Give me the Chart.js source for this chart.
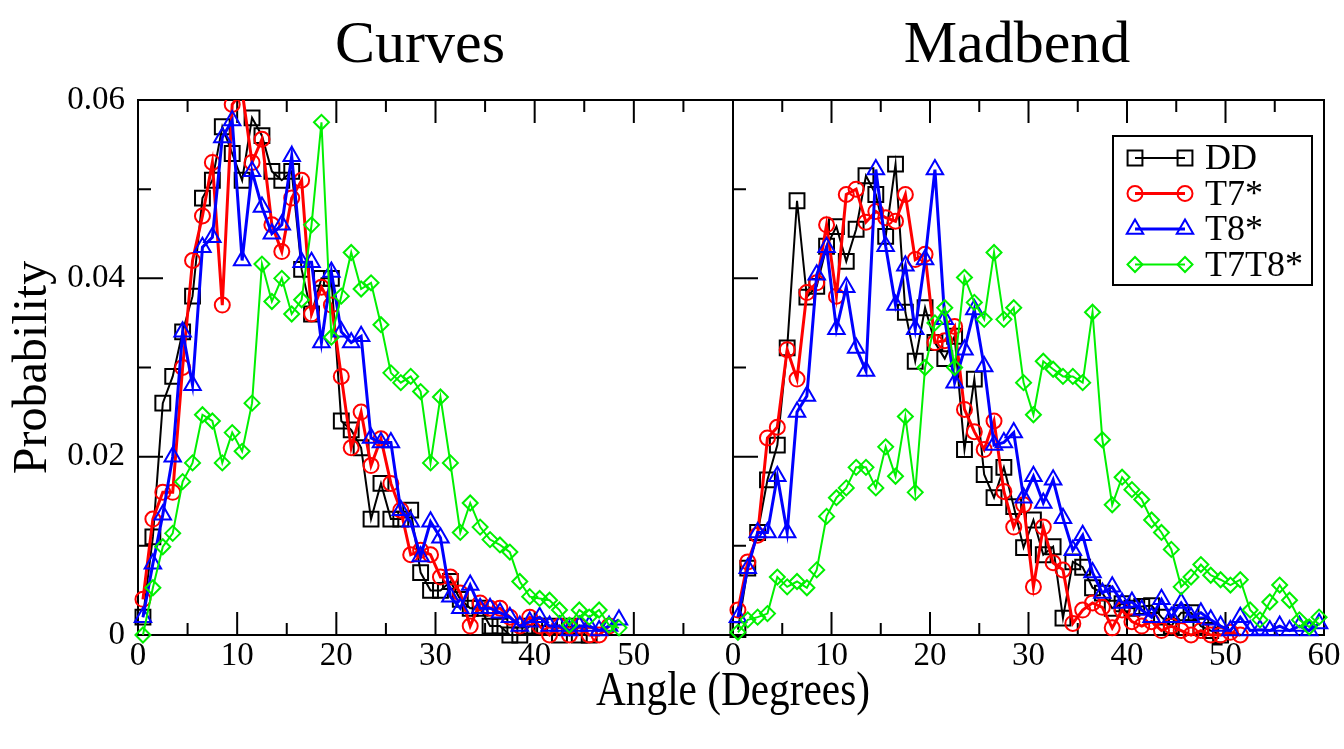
<!DOCTYPE html>
<html>
<head>
<meta charset="utf-8">
<title>Curves / Madbend angle distributions</title>
<script src="https://cdn.jsdelivr.net/npm/chart.js@4.4.0/dist/chart.umd.min.js"></script>
<style>
    html, body { margin: 0; padding: 0; background: #fff; }
    #wrap { position: relative; width: 1344px; height: 749px; overflow: hidden; }
    #wrap canvas { position: absolute; left: 0; top: 0; }
</style>
</head>
<body>
<div id="wrap">
    <canvas id="curvesChart" width="1344" height="749"></canvas>
    <canvas id="madbendChart" width="1344" height="749"></canvas>
</div>
<script>
// Angle bins (bin centres, degrees)
const binCenters = [0.5, 1.5, 2.5, 3.5, 4.5, 5.5, 6.5, 7.5, 8.5, 9.5, 10.5, 11.5, 12.5, 13.5, 14.5,
    15.5, 16.5, 17.5, 18.5, 19.5, 20.5, 21.5, 22.5, 23.5, 24.5, 25.5, 26.5, 27.5, 28.5, 29.5,
    30.5, 31.5, 32.5, 33.5, 34.5, 35.5, 36.5, 37.5, 38.5, 39.5, 40.5, 41.5, 42.5, 43.5, 44.5,
    45.5, 46.5, 47.5, 48.5, 49.5, 50.5, 51.5, 52.5, 53.5, 54.5, 55.5, 56.5, 57.5, 58.5, 59.5];

const seriesLabels = ['DD', 'T7*', 'T8*', 'T7T8*'];

// Curves panel
const curvesDD = [0.002, 0.011, 0.026, 0.029, 0.034, 0.038, 0.049, 0.051, 0.057, 0.054,
    0.051, 0.058, 0.056, 0.052, 0.051, 0.052, 0.041, 0.036, 0.040, 0.040,
    0.024, 0.023, 0.021, 0.013, 0.017, 0.013, 0.013, 0.014, 0.007, 0.005,
    0.005, 0.006, 0.004, 0.003, 0.003, 0.001, 0.001, 0.000, 0.000, 0.001,
    0.001, 0.001, 0.000, 0.001, 0.000, 0.000];
const curvesT7 = [0.004, 0.013, 0.016, 0.016, 0.030, 0.042, 0.047, 0.053, 0.037, 0.0595,
    0.061, 0.053, 0.0556, 0.046, 0.043, 0.049, 0.051, 0.036, 0.039, 0.037,
    0.029, 0.021, 0.025, 0.019, 0.022, 0.017, 0.014, 0.009, 0.0095, 0.009,
    0.0065, 0.0065, 0.0047, 0.001, 0.0036, 0.003, 0.003, 0.002, 0.001, 0.002,
    0.001, 0.000, 0.001, 0.000, 0.001, 0.000, 0.000, 0.001];
const curvesT8 = [0.002, 0.008, 0.0135, 0.020, 0.034, 0.028, 0.0435, 0.0446, 0.0558, 0.0577,
    0.042, 0.052, 0.048, 0.045, 0.046, 0.0537, 0.0418, 0.0418, 0.0328, 0.0407,
    0.034, 0.0328, 0.0335, 0.0221, 0.0216, 0.0216, 0.014, 0.0127, 0.0088, 0.0127,
    0.0109, 0.0043, 0.003, 0.0056, 0.003, 0.003, 0.0025, 0.002, 0.001, 0.0015,
    0.002, 0.001, 0.001, 0.0005, 0.001, 0.001, 0.0005, 0.001, 0.0017];
const curvesT7T8 = [0.000, 0.0053, 0.0099, 0.0114, 0.0172, 0.0193, 0.0247, 0.024, 0.0193, 0.0227,
    0.0206, 0.026, 0.0416, 0.0374, 0.040, 0.036, 0.0376, 0.046, 0.0575, 0.0334,
    0.038, 0.0429, 0.0388, 0.0395, 0.0348, 0.0294, 0.0283, 0.029, 0.0273, 0.0193,
    0.0267, 0.0193, 0.0115, 0.0148, 0.0121, 0.0107, 0.0101, 0.0093, 0.006, 0.0043,
    0.0041, 0.0039, 0.0028, 0.0011, 0.0028, 0.002, 0.0028, 0.0011, 0.0008];

// Madbend panel
const madbendDD = [0.0006, 0.0075, 0.0115, 0.0174, 0.0213, 0.0322, 0.0487, 0.0379, 0.0391, 0.0436,
    0.0458, 0.0419, 0.0455, 0.0515, 0.0494, 0.0447, 0.0528, 0.0362, 0.0307, 0.0367,
    0.0328, 0.031, 0.0335, 0.0208, 0.0287, 0.018, 0.0154, 0.0188, 0.0144, 0.0098,
    0.0129, 0.009, 0.0099, 0.0019, 0.0082, 0.0076, 0.0053, 0.0047, 0.003, 0.0035,
    0.003, 0.0032, 0.0033, 0.002, 0.001, 0.0025, 0.0025, 0.001, 0.0005, 0.000];
const madbendT7 = [0.0028, 0.0082, 0.0112, 0.0221, 0.0233, 0.032, 0.0287, 0.0384, 0.0395, 0.046,
    0.038, 0.0494, 0.050, 0.0463, 0.0475, 0.0468, 0.0464, 0.0494, 0.0421, 0.0427,
    0.0328, 0.033, 0.0346, 0.0253, 0.0228, 0.0208, 0.024, 0.0161, 0.0121, 0.0146,
    0.0054, 0.0121, 0.0081, 0.0073, 0.0013, 0.0028, 0.0036, 0.0031, 0.0008, 0.0028,
    0.0015, 0.001, 0.0015, 0.0005, 0.001, 0.0005, 0.000, 0.0005, 0.000, 0.000,
    0.0003, 0.000];
const madbendT8 = [0.002, 0.0075, 0.0115, 0.0115, 0.0178, 0.0115, 0.025, 0.0268, 0.0404, 0.0435,
    0.0343, 0.039, 0.0322, 0.0296, 0.0522, 0.0436, 0.037, 0.0414, 0.0343, 0.0421,
    0.0522, 0.0354, 0.0283, 0.032, 0.0365, 0.0301, 0.0213, 0.0216, 0.0227, 0.0154,
    0.0178, 0.0148, 0.0174, 0.0131, 0.0095, 0.0112, 0.007, 0.0047, 0.0054, 0.0036,
    0.0037, 0.0028, 0.002, 0.004, 0.002, 0.0036, 0.002, 0.0025, 0.0017, 0.001,
    0.0005, 0.002, 0.0005, 0.0006, 0.0005, 0.001, 0.0005, 0.001, 0.0005, 0.0013];
const madbendT7T8 = [0.0003, 0.0017, 0.002, 0.0024, 0.0065, 0.0054, 0.006, 0.0053, 0.0073, 0.0133,
    0.0154, 0.0165, 0.0188, 0.0188, 0.0165, 0.0211, 0.0178, 0.0245, 0.016, 0.030,
    0.035, 0.0367, 0.030, 0.0401, 0.0373, 0.0354, 0.0429, 0.0354, 0.0367, 0.0283,
    0.0247, 0.0307, 0.0298, 0.029, 0.029, 0.0283, 0.0362, 0.0219, 0.0146, 0.0177,
    0.0163, 0.0152, 0.0129, 0.0115, 0.0096, 0.0054, 0.0065, 0.0079, 0.0067, 0.0062,
    0.0056, 0.0062, 0.0028, 0.0017, 0.0037, 0.0056, 0.0039, 0.0017, 0.0009, 0.002];

// Axis ticks
const xTickStep = 10;
const yTicks = [0, 0.02, 0.04, 0.06];

const SERIF = "'Liberation Serif', 'Times New Roman', serif";
Chart.defaults.font.family = SERIF;
Chart.defaults.color = '#000';

const colors = {
    dd: '#000000',
    t7: '#ff0000',
    t8: '#0000ff',
    t7t8: '#00f000'
};

function makeSeries(label, values, color, style, radius, lineWidth, order) {
    return {
        label: label,
        data: values.map((v, i) => ({ x: binCenters[i], y: v })),
        borderColor: color,
        backgroundColor: 'rgba(0,0,0,0)',
        borderWidth: lineWidth,
        pointStyle: style,
        pointRadius: radius,
        pointBorderWidth: 2,
        pointBorderColor: color,
        pointBackgroundColor: 'rgba(0,0,0,0)',
        tension: 0,
        fill: false,
        order: order,
        clip: { left: 12, right: 12, top: 0, bottom: 12 }
    };
}

function buildDatasets(dd, t7, t8, t7t8) {
    return [
        makeSeries(seriesLabels[0], dd, colors.dd, 'rect', 10.5, 2, 3),
        makeSeries(seriesLabels[1], t7, colors.t7, 'circle', 7.5, 3, 2),
        makeSeries(seriesLabels[2], t8, colors.t8, 'triangle', 9.5, 3, 1),
        makeSeries(seriesLabels[3], t7t8, colors.t7t8, 'rectRot', 7.5, 2, 0)
    ];
}

// Frame, inward ticks and panel title
const panelDecor = {
    id: 'panelDecor',
    beforeDatasetsDraw(chart, args, opts) {
        const { ctx, chartArea: a } = chart;
        const x = chart.scales.x;
        const y = chart.scales.y;
        ctx.save();
        ctx.strokeStyle = '#000';
        ctx.lineWidth = 2;
        ctx.strokeRect(a.left, a.top, a.right - a.left, a.bottom - a.top);

        ctx.beginPath();
        for (let v = 5; v < x.max; v += 5) {
            const px = x.getPixelForValue(v);
            const len = v % 10 === 0 ? 23 : 12;
            ctx.moveTo(px, a.bottom);
            ctx.lineTo(px, a.bottom - len);
            ctx.moveTo(px, a.top);
            ctx.lineTo(px, a.top + len);
        }
        for (let k = 1; k < 6; k++) {
            const py = y.getPixelForValue(k / 100);
            const len = k % 2 === 0 ? 25 : 13;
            ctx.moveTo(a.left, py);
            ctx.lineTo(a.left + len, py);
        }
        ctx.stroke();

        ctx.fillStyle = '#000';
        ctx.textAlign = 'center';
        ctx.textBaseline = 'alphabetic';
        ctx.font = '60px ' + SERIF;
        ctx.fillText(opts.title, opts.titleX, 62);
        if (opts.xTitle) {
            // the axis label in the figure is a little condensed
            ctx.translate(opts.xTitleX, 705);
            ctx.scale(0.86, 1);
            ctx.font = '48px ' + SERIF;
            ctx.fillText(opts.xTitle, 0, 0);
        }
        ctx.restore();
    }
};

// Boxed legend with line + marker at both ends
const boxLegend = {
    id: 'boxLegend',
    afterDatasetsDraw(chart, args, opts) {
        if (!opts.show) return;
        const ctx = chart.ctx;
        ctx.save();
        ctx.fillStyle = '#fff';
        ctx.fillRect(1113, 136, 199, 149);
        ctx.strokeStyle = '#000';
        ctx.lineWidth = 2;
        ctx.strokeRect(1113, 136, 199, 149);
        chart.data.datasets.forEach((ds, i) => {
            const yy = 158 + i * 35.5;
            ctx.strokeStyle = ds.borderColor;
            ctx.lineWidth = ds.borderWidth;
            ctx.beginPath();
            ctx.moveTo(1135, yy);
            ctx.lineTo(1185, yy);
            ctx.stroke();
            ctx.fillStyle = 'rgba(0,0,0,0)';
            ctx.lineWidth = ds.pointBorderWidth;
            const pt = { pointStyle: ds.pointStyle, radius: ds.pointRadius, borderWidth: ds.pointBorderWidth, rotation: 0 };
            Chart.helpers.drawPoint(ctx, pt, 1135, yy);
            Chart.helpers.drawPoint(ctx, pt, 1185, yy);
            ctx.fillStyle = '#000';
            ctx.font = '36px ' + SERIF;
            ctx.textAlign = 'left';
            ctx.textBaseline = 'alphabetic';
            ctx.fillText(ds.label, 1205, yy + 11);
        });
        ctx.restore();
    }
};

function xScale(hideLast) {
    return {
        type: 'linear',
        min: 0,
        max: 60,
        grid: { display: false, drawTicks: false },
        border: { display: false },
        ticks: {
            stepSize: xTickStep,
            padding: 2,
            font: { size: 33, lineHeight: 1.2 },
            color: '#000',
            callback: (v) => (hideLast && v === 60) ? '' : String(v)
        },
        afterFit: (s) => { s.height = 74; }
    };
}

new Chart(document.getElementById('curvesChart'), {
    type: 'line',
    data: { datasets: buildDatasets(curvesDD, curvesT7, curvesT8, curvesT7T8) },
    options: {
        responsive: false,
        devicePixelRatio: 1,
        animation: false,
        layout: { padding: { left: 0, top: 100, right: 611, bottom: 40 } },
        plugins: {
            legend: { display: false },
            tooltip: { enabled: false },
            panelDecor: { title: 'Curves', titleX: 420 },
            boxLegend: { show: false }
        },
        scales: {
            x: xScale(true),
            y: {
                min: 0,
                max: 0.06,
                afterBuildTicks: (s) => { s.ticks = yTicks.map(v => ({ value: v })); },
                grid: { display: false, drawTicks: false },
                border: { display: false },
                ticks: {
                    padding: 13,
                    font: { size: 33, lineHeight: 1.2 },
                    color: '#000',
                    callback: (v) => v === 0 ? '0' : v.toFixed(2)
                },
                title: {
                    display: true,
                    text: 'Probability',
                    font: { size: 48, lineHeight: 1.2 },
                    color: '#000',
                    padding: { top: 5, bottom: 0 }
                },
                afterFit: (s) => { s.width = 138; }
            }
        }
    },
    plugins: [panelDecor, boxLegend]
});

new Chart(document.getElementById('madbendChart'), {
    type: 'line',
    data: { datasets: buildDatasets(madbendDD, madbendT7, madbendT8, madbendT7T8) },
    options: {
        responsive: false,
        devicePixelRatio: 1,
        animation: false,
        layout: { padding: { left: 733, top: 100, right: 20, bottom: 40 } },
        plugins: {
            legend: { display: false },
            tooltip: { enabled: false },
            panelDecor: { title: 'Madbend', titleX: 1017, xTitle: 'Angle (Degrees)', xTitleX: 733 },
            boxLegend: { show: true }
        },
        scales: {
            x: xScale(false),
            y: { display: false, min: 0, max: 0.06 }
        }
    },
    plugins: [panelDecor, boxLegend]
});
</script>
</body>
</html>
